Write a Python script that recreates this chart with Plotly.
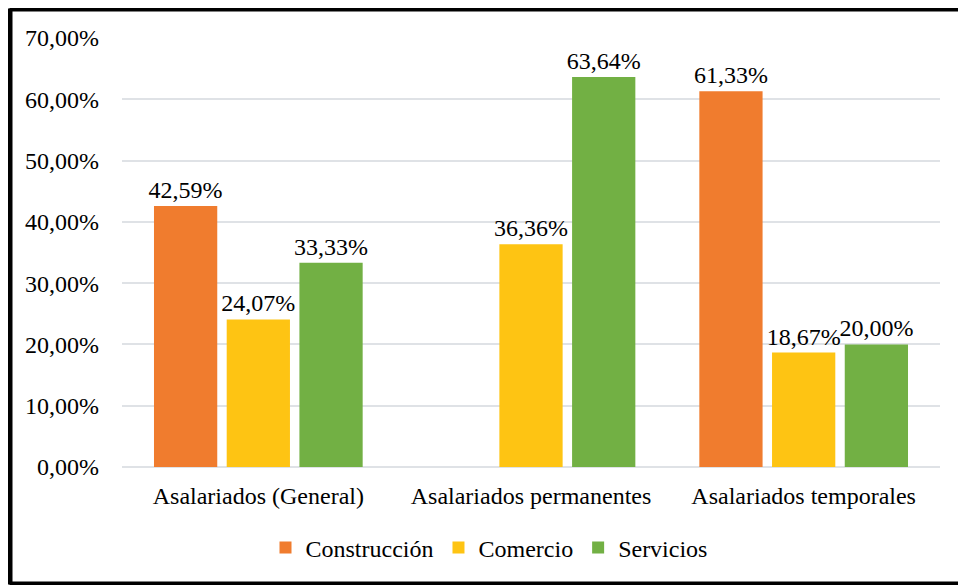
import plotly.graph_objects as go

# categories and series values (percent)
categorias = ["Asalariados (General)", "Asalariados permanentes", "Asalariados temporales"]
construccion = [42.59, None, 61.33]
comercio = [24.07, 36.36, 18.67]
servicios = [33.33, 63.64, 20.00]
y_ticks = [0, 10, 20, 30, 40, 50, 60, 70]
y_tick_text = [f"{v:.2f}%".replace(".", ",") for v in y_ticks]

# page body has an 8px margin, so the layout is laid out 8px up/left
OFF = 8
W, H = 966, 585
ml, mt = 122 - OFF, 38 - OFF
mr = W - (940 - OFF)
mb = H - (467 - OFF)
pw, ph = W - ml - mr, H - mt - mb

font = dict(family="Liberation Serif", size=24, color="black")

fig = go.Figure()
for name, vals, color in [("Construcción", construccion, "#F07C2E"),
                          ("Comercio", comercio, "#FEC413"),
                          ("Servicios", servicios, "#72B044")]:
    fig.add_trace(go.Bar(
        x=categorias, y=vals, name=name,
        marker=dict(color=color, line=dict(width=0)),
        texttemplate="%{y:.2f}%", textposition="outside",
        textfont=font, cliponaxis=False, constraintext="none",
    ))


def px_x(p):
    return (p - OFF - ml) / pw


def px_y(p):
    return (H - mb - (p - OFF)) / ph


# outer black frame: left, top and bottom edges (right edge is off the picture)
frame = dict(color="black", width=6)
x_left, x_right = px_x(9.5), px_x(1000)
y_top, y_bot = px_y(8.5), px_y(584.5)
fig.add_shape(type="line", xref="paper", yref="paper",
              x0=x_left, x1=x_left, y0=y_bot, y1=y_top, line=frame)
fig.add_shape(type="line", xref="paper", yref="paper",
              x0=x_left, x1=x_right, y0=y_top, y1=y_top, line=frame)
fig.add_shape(type="line", xref="paper", yref="paper",
              x0=x_left, x1=x_right, y0=y_bot, y1=y_bot, line=frame)

fig.update_layout(
    width=W, height=H,
    margin=dict(l=ml, r=mr, t=mt, b=mb, autoexpand=False),
    paper_bgcolor="white", plot_bgcolor="white",
    separators=",.",
    font=font,
    barmode="group", bargap=0.2, bargroupgap=0.13,
    showlegend=True,
    legend=dict(orientation="h", x=px_x(489), xanchor="center", y=px_y(548), yanchor="middle",
                font=font, itemwidth=30, traceorder="normal"),
    xaxis=dict(showline=False, ticks="", tickfont=font, showgrid=False,
               ticklabelstandoff=12),
    yaxis=dict(range=[0, 70], tickvals=y_ticks, ticktext=y_tick_text,
               showgrid=True, gridcolor="#DFE2E6", gridwidth=1.5,
               zeroline=True, zerolinecolor="#DFE2E6", zerolinewidth=1.5,
               showline=False, ticks="", tickfont=font, ticklabelstandoff=22),
)

fig.write_html("out.html")
